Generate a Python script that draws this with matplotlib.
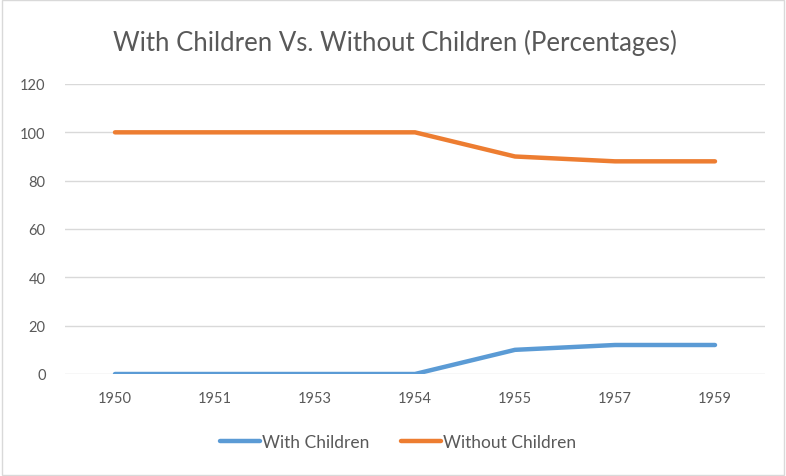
import matplotlib
matplotlib.use("Agg")
import matplotlib.pyplot as plt
from matplotlib.patches import Rectangle

years = ["1950", "1951", "1953", "1954", "1955", "1957", "1959"]
with_children = [0, 0, 0, 0, 10, 12, 12]
without_children = [100, 100, 100, 100, 90, 88, 88]
yticks = [0, 20, 40, 60, 80, 100, 120]

plt.rcParams['font.family'] = ['Lato', 'DejaVu Sans']

fig = plt.figure(figsize=(7.86, 4.77), dpi=100)
fig.patches.append(Rectangle((0.003, 0.003), 0.994, 0.994, transform=fig.transFigure,
                             fill=False, edgecolor='#d9d9d9', linewidth=1.0))
ax = fig.add_axes([65/786, 1-375/477, 700/786, 290/477])

x = list(range(len(years)))
ax.plot(x, with_children, color='#5b9bd5', linewidth=3.2, label='With Children', solid_capstyle='round')
ax.plot(x, without_children, color='#ed7d31', linewidth=3.2, label='Without Children', solid_capstyle='round')

ax.set_xlim(-0.5, len(years) - 0.5)
ax.set_ylim(0, 120)
ax.set_yticks(yticks)
ax.set_xticks(x)
ax.set_xticklabels(years)
ax.grid(axis='y', color='#d9d9d9', linewidth=1)
ax.set_axisbelow(True)
for s in ax.spines.values():
    s.set_visible(False)
ax.tick_params(length=0, colors='#595959', labelsize=10.5)
ax.tick_params(axis='x', pad=12)
ax.tick_params(axis='y', pad=14)

fig.text(395/786, 1-43/477, 'With Children Vs. Without Children (Percentages)',
         ha='center', va='center', fontsize=18.5, color='#595959')

fig.legend(loc='center', bbox_to_anchor=(398/786, 1-443/477), ncol=2, frameon=False,
           fontsize=12.5, labelcolor='#595959', handlelength=2.3, handletextpad=0.15,
           columnspacing=1.8)

fig.savefig('out.png', dpi=100)
